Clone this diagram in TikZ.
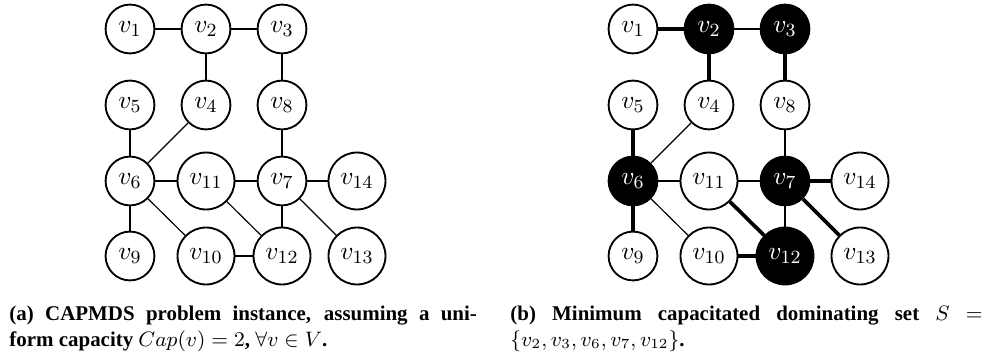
\documentclass[tikz,border=0pt]{standalone}
\usepackage{amsmath, amssymb}
\usepackage{fontspec}
\setmainfont{Liberation Serif}
\usepackage{xcolor}
\usepackage{tikz}
\usetikzlibrary{positioning}

\begin{document}
\begin{tikzpicture}[
    x=0.43pt, y=-0.43pt,
    vtx/.style={draw, circle, line width=0.8pt, minimum size=21pt, inner sep=0pt,
                fill=white, font=\fontsize{11}{13}\selectfont},
    wide/.style={minimum size=24.5pt},
    dom/.style={fill=black, text=white},
    edge/.style={line width=0.5pt},
    used/.style={line width=1.6pt},
    capt/.style={anchor=base west, inner sep=0pt, text width=201pt, align=justify,
                 font=\fontsize{9}{10.8}\selectfont\bfseries}
]
\useasboundingbox (0,0) rectangle (987,358);

% (a) problem instance
\node[vtx] (a1) at (130,29) {$v_1$};
\node[vtx] (a2) at (206,29) {$v_2$};
\node[vtx] (a3) at (282,29) {$v_3$};
\node[vtx] (a5) at (130,105) {$v_5$};
\node[vtx] (a4) at (206,105) {$v_4$};
\node[vtx] (a8) at (282,105) {$v_8$};
\node[vtx] (a6) at (130,181) {$v_6$};
\node[vtx, wide] (a11) at (206,181) {$v_{11}$};
\node[vtx] (a7) at (282,181) {$v_7$};
\node[vtx, wide] (a14) at (357,181) {$v_{14}$};
\node[vtx] (a9) at (130,256) {$v_9$};
\node[vtx, wide] (a10) at (206,256) {$v_{10}$};
\node[vtx, wide] (a12) at (282,256) {$v_{12}$};
\node[vtx, wide] (a13) at (357,256) {$v_{13}$};
\foreach \u/\v in {1/2, 2/3, 2/4, 3/8, 5/6, 4/6, 8/7, 6/11, 11/7, 7/14,
                   6/9, 6/10, 11/12, 7/12, 7/13, 10/12}
  \draw[edge] (a\u) -- (a\v);

% (b) dominating set
\node[vtx] (b1) at (633,29) {$v_1$};
\node[vtx, dom] (b2) at (709,29) {$v_2$};
\node[vtx, dom] (b3) at (785,29) {$v_3$};
\node[vtx] (b5) at (633,105) {$v_5$};
\node[vtx] (b4) at (709,105) {$v_4$};
\node[vtx] (b8) at (785,105) {$v_8$};
\node[vtx, dom] (b6) at (633,181) {$v_6$};
\node[vtx, wide] (b11) at (709,181) {$v_{11}$};
\node[vtx, dom] (b7) at (785,181) {$v_7$};
\node[vtx, wide] (b14) at (860,181) {$v_{14}$};
\node[vtx] (b9) at (633,256) {$v_9$};
\node[vtx, wide] (b10) at (709,256) {$v_{10}$};
\node[vtx, wide, dom] (b12) at (785,256) {$v_{12}$};
\node[vtx, wide] (b13) at (860,256) {$v_{13}$};
\foreach \u/\v in {2/3, 4/6, 8/7, 6/11, 11/7, 6/10, 7/12}
  \draw[edge] (b\u) -- (b\v);
\foreach \u/\v in {1/2, 2/4, 3/8, 5/6, 6/9, 7/14, 11/12, 7/13, 10/12}
  \draw[used] (b\u) -- (b\v);

% captions
\node[capt] (capa) at (9,321) {(a) CAPMDS problem instance, assuming a uni-\linebreak
  form capacity $Cap(v) = 2$, $\forall v \in V$.};
\node[capt, text width=203pt] (capb) at (510,321) {(b) Minimum capacitated dominating set $S$ $=$\linebreak
  $\{v_2, v_3, v_6, v_7, v_{12}\}$.};
\end{tikzpicture}
\end{document}
